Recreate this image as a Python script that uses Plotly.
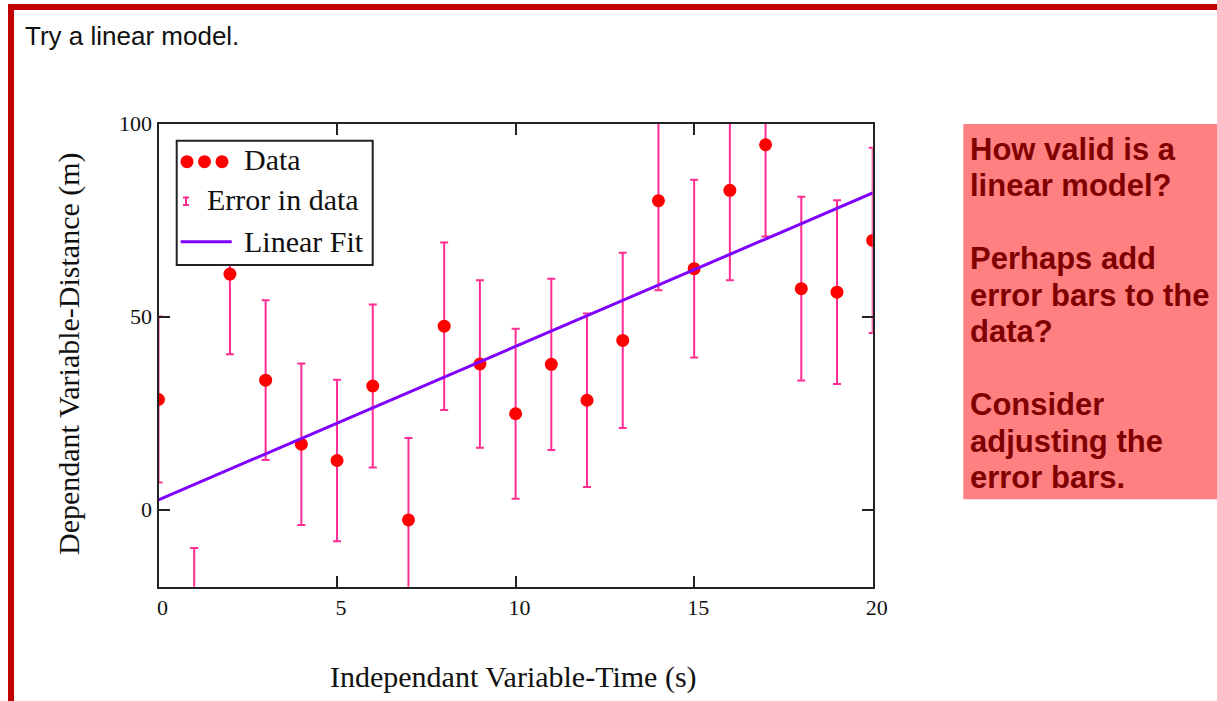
import plotly.graph_objects as go

# ---- data ----
time_s = list(range(21))
distance_m = [28.5, -31.5, 61.0, 33.5, 16.9, 12.7, 32.0, -2.7, 47.5, 37.7, 24.8,
              37.6, 28.3, 43.8, 80.0, 62.4, 82.7, 94.5, 57.2, 56.3, 69.7]
distance_err = [21.5, 21.5, 20.8, 20.7, 20.9, 20.9, 21.1, 21.2, 21.7, 21.7, 22.0,
                22.2, 22.5, 22.7, 23.2, 23.0, 23.3, 23.8, 23.8, 23.8, 24.0]
fit_x = [0, 20]
fit_y = [2.5, 82.0]

x_ticks = [0, 5, 10, 15, 20]
y_ticks = [0, 50, 100]

legend_labels = ["Data", "Error in data", "Linear Fit"]
note_lines = ["How valid is a", "linear model?", "",
              "Perhaps add", "error bars to the", "data?", "",
              "Consider", "adjusting the", "error bars."]
heading = "Try a linear model."
x_title = "Independant Variable-Time (s)"
y_title = "Dependant Variable-Distance (m)"

# ---- page geometry (pixels) ----
W, H = 1217, 701
PLOT_L, PLOT_R, PLOT_T, PLOT_B = 158.5, 872.7, 123.5, 586.7

RED_DOT = "#ff0000"
PINK = "#ff2d92"
PURPLE = "#8000ff"
SERIF = "Liberation Serif, Times New Roman, serif"
SANS = "Liberation Sans, Arial, sans-serif"


def px(x):
    return x / W


def py(y):
    return 1 - y / H


fig = go.Figure()

fig.add_trace(go.Scatter(
    x=time_s, y=distance_m, mode="markers",
    marker=dict(color=RED_DOT, size=13, symbol="circle", line=dict(width=0)),
    error_y=dict(type="data", array=distance_err, visible=True,
                 color=PINK, thickness=2, width=4),
    showlegend=False,
))
fig.add_trace(go.Scatter(
    x=fit_x, y=fit_y, mode="lines",
    line=dict(color=PURPLE, width=3),
    showlegend=False,
))

axis_common = dict(
    showgrid=False, zeroline=False, showline=True, linecolor="#222",
    linewidth=2, mirror="allticks", ticks="inside", ticklen=11,
    tickwidth=2, tickcolor="#222", automargin=False,
    tickfont=dict(family=SERIF, size=22, color="#111"),
)
fig.update_xaxes(range=[0, 20], tickvals=x_ticks, ticklabelshift=4,
                 domain=[px(PLOT_L), px(PLOT_R)], **axis_common)
fig.update_yaxes(range=[-20, 100], tickvals=y_ticks,
                 domain=[py(PLOT_B), py(PLOT_T)], **axis_common)

shapes = []
annotations = []

# red page frame
shapes.append(dict(type="rect", xref="paper", yref="paper",
                   x0=px(8), x1=1, y0=py(10), y1=py(4),
                   fillcolor="#c00000", line=dict(width=0)))
shapes.append(dict(type="rect", xref="paper", yref="paper",
                   x0=px(8), x1=px(14), y0=0, y1=py(4),
                   fillcolor="#c00000", line=dict(width=0)))

# heading
annotations.append(dict(text=heading, xref="paper", yref="paper",
                        x=px(23), y=py(36), xanchor="left", yanchor="middle",
                        showarrow=False,
                        font=dict(family=SANS, size=26, color="#111")))

# axis titles
annotations.append(dict(text=x_title, xref="paper", yref="paper",
                        x=px(513), y=py(677), xanchor="center", yanchor="middle",
                        showarrow=False,
                        font=dict(family=SERIF, size=30, color="#111")))
annotations.append(dict(text=y_title, xref="paper", yref="paper",
                        x=px(69), y=py(354), xanchor="center", yanchor="middle",
                        textangle=-90, showarrow=False,
                        font=dict(family=SERIF, size=30, color="#111")))

# legend box
shapes.append(dict(type="rect", xref="paper", yref="paper",
                   x0=px(176.7), x1=px(372.7), y0=py(265), y1=py(140.7),
                   fillcolor="white", line=dict(color="#222", width=2),
                   layer="above"))
for cx in (187, 204.5, 222):
    shapes.append(dict(type="circle", xref="paper", yref="paper",
                       x0=px(cx - 6.5), x1=px(cx + 6.5),
                       y0=py(161.7 + 6.5), y1=py(161.7 - 6.5),
                       fillcolor=RED_DOT, line=dict(width=0), layer="above"))
ex, ey0, ey1 = 186, 197.5, 205
shapes.append(dict(type="path", xref="paper", yref="paper",
                   path=(f"M{px(ex)},{py(ey0)} L{px(ex)},{py(ey1)} "
                         f"M{px(ex - 3)},{py(ey0)} L{px(ex + 3)},{py(ey0)} "
                         f"M{px(ex - 3)},{py(ey1)} L{px(ex + 3)},{py(ey1)}"),
                   line=dict(color=PINK, width=2), layer="above"))
shapes.append(dict(type="line", xref="paper", yref="paper",
                   x0=px(180.7), x1=px(231.7), y0=py(241.7), y1=py(241.7),
                   line=dict(color=PURPLE, width=3), layer="above"))
legend_pos = [(241.7, 159.5), (205, 199.5), (241.7, 241.5)]
for label, (lx, ly) in zip(legend_labels, legend_pos):
    annotations.append(dict(text=label, xref="paper", yref="paper",
                            x=px(lx), y=py(ly), xanchor="left", yanchor="middle",
                            showarrow=False,
                            font=dict(family=SERIF, size=30, color="#111")))

# note box on the right
shapes.append(dict(type="rect", xref="paper", yref="paper",
                   x0=px(963.3), x1=1, y0=py(499.3), y1=py(124),
                   fillcolor="#ff8080", line=dict(width=0)))
first_baseline, line_step, note_size = 160, 36.5, 31
for i, line in enumerate(note_lines):
    if not line:
        continue
    center = first_baseline + i * line_step - 0.35 * note_size
    annotations.append(dict(text=line, xref="paper", yref="paper",
                            x=px(968), y=py(center), xanchor="left",
                            yanchor="middle", showarrow=False,
                            font=dict(family=SANS, size=note_size,
                                      color="#800000", weight="bold")))

fig.update_layout(
    width=W, height=H,
    margin=dict(l=0, r=0, t=0, b=0, pad=0, autoexpand=False),
    paper_bgcolor="white", plot_bgcolor="white",
    showlegend=False,
    shapes=shapes, annotations=annotations,
)

fig.write_html("out.html")
